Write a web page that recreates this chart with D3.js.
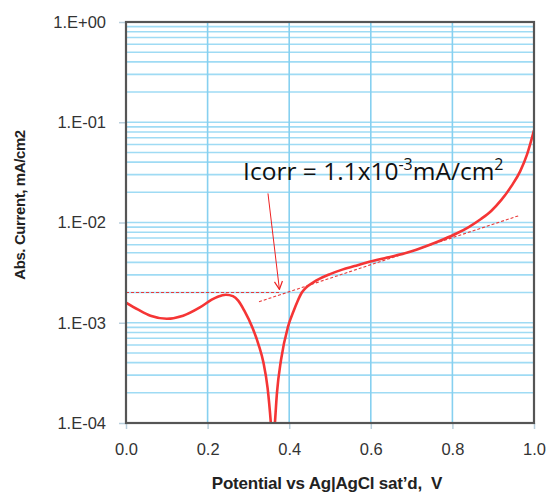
<!DOCTYPE html>
<html>
<head>
<meta charset="utf-8">
<script src="https://cdn.jsdelivr.net/npm/d3@7"></script>
<style>
  html, body { margin: 0; padding: 0; background: #fff; }
  svg { display: block; }
</style>
</head>
<body>
<svg id="chart"></svg>
<script>
// polarization curve
const potential = [0, 0.03, 0.06, 0.1, 0.14, 0.18, 0.21, 0.225, 0.245, 0.262, 0.275, 0.29, 0.31,
    0.325, 0.337, 0.347, 0.355, 0.36, 0.365, 0.37, 0.38, 0.397, 0.412, 0.42, 0.431, 0.44, 0.46,
    0.475, 0.5, 0.53, 0.56, 0.59, 0.64, 0.69, 0.74, 0.78, 0.81, 0.84, 0.87, 0.895, 0.92, 0.945,
    0.966, 0.983, 1.0];
const current = [1.585e-3, 1.349e-3, 1.175e-3, 1.096e-3, 1.175e-3, 1.413e-3, 1.698e-3, 1.82e-3,
    1.905e-3, 1.841e-3, 1.66e-3, 1.318e-3, 8.91e-4, 6.03e-4, 3.98e-4, 2.24e-4, 1.0e-4, 5.0e-5,
    1.0e-4, 2.0e-4, 4.27e-4, 9.12e-4, 1.35e-3, 1.622e-3, 2.0e-3, 2.213e-3, 2.541e-3, 2.754e-3,
    3.055e-3, 3.388e-3, 3.673e-3, 3.981e-3, 4.47e-3, 5.01e-3, 5.89e-3, 6.84e-3, 7.762e-3,
    9.016e-3, 1.084e-2, 1.303e-2, 1.679e-2, 2.317e-2, 3.236e-2, 4.786e-2, 8.318e-2];

// tangent construction
const plateauLine = [[0, 2.0e-3], [0.38, 2.0e-3]];
const tafelLine = [[0.326, 1.62e-3], [0.963, 1.17e-2]];
const arrowLine = [[0.348, 1.95e-2], [0.376, 2.15e-3]];

const xTicks = [0, 0.2, 0.4, 0.6, 0.8, 1.0];
const yTicks = [1e-4, 1e-3, 1e-2, 1e-1, 1];
const yTickLabels = ['1.E-04', '1.E-03', '1.E-02', '1.E-01', '1.E+00'];

const margin = { top: 22, right: 17, bottom: 73, left: 126 };
const W = 551, H = 496;
const width = W - margin.left - margin.right;
const height = H - margin.top - margin.bottom;

const svg = d3.select('#chart').attr('width', W).attr('height', H);
const defs = svg.append('defs');
defs.append('clipPath').attr('id', 'clip')
    .append('rect').attr('width', width).attr('height', height);
defs.append('marker')
    .attr('id', 'arrow')
    .attr('viewBox', '0 0 10 10')
    .attr('refX', 9).attr('refY', 5)
    .attr('markerWidth', 10).attr('markerHeight', 10)
    .attr('markerUnits', 'userSpaceOnUse')
    .attr('orient', 'auto')
    .append('path')
    .attr('d', 'M1,1 L9,5 L1,9')
    .attr('fill', 'none')
    .attr('stroke', '#ee2222')
    .attr('stroke-width', 1.2);

const g = svg.append('g').attr('transform', `translate(${margin.left},${margin.top})`);

const x = d3.scaleLinear().domain([0, 1]).range([0, width]);
const y = d3.scaleLog().domain([1e-4, 1]).range([height, 0]);

// grid
const minor = [];
for (let e = -4; e < 0; e++) {
    for (let m = 2; m <= 9; m++) minor.push(m * Math.pow(10, e));
}
g.append('g').selectAll('line.hgrid')
    .data(minor.concat(yTicks))
    .join('line')
    .attr('class', 'hgrid')
    .attr('x1', 0).attr('x2', width)
    .attr('y1', (d) => y(d)).attr('y2', (d) => y(d))
    .attr('stroke', '#9fdbf4')
    .attr('stroke-width', 1.6);

g.append('g').selectAll('line.vgrid')
    .data(xTicks)
    .join('line')
    .attr('class', 'vgrid')
    .attr('x1', (d) => x(d)).attr('x2', (d) => x(d))
    .attr('y1', 0).attr('y2', height)
    .attr('stroke', '#86d0f0')
    .attr('stroke-width', 1.6);

// axes
const yAxis = g.append('g')
    .call(d3.axisLeft(y).tickValues(yTicks).tickFormat((d, i) => yTickLabels[i]).tickSize(7).tickPadding(13));
const xAxis = g.append('g')
    .attr('transform', `translate(0,${height})`)
    .call(d3.axisBottom(x).tickValues(xTicks).tickFormat(d3.format('.1f')).tickSize(6).tickPadding(14));
[yAxis, xAxis].forEach((a) => {
    a.select('.domain').remove();
    a.selectAll('line').attr('stroke', '#b8cfdc').attr('stroke-width', 1.5);
    a.selectAll('text')
        .attr('fill', '#333')
        .style('font-family', 'Liberation Sans, Arial, sans-serif')
        .style('font-size', '16.5px');
});

// curve
const pts = potential.map((p, i) => [p, current[i]]);
const line = d3.line().x((d) => x(d[0])).y((d) => y(d[1])).curve(d3.curveMonotoneX);

const plot = g.append('g').attr('clip-path', 'url(#clip)');
plot.append('path')
    .datum(pts)
    .attr('d', line)
    .attr('fill', 'none')
    .attr('stroke', '#f53535')
    .attr('stroke-width', 2.6)
    .attr('stroke-linejoin', 'round');

const straight = d3.line().x((d) => x(d[0])).y((d) => y(d[1]));
[plateauLine, tafelLine].forEach((l) => {
    plot.append('path')
        .datum(l)
        .attr('d', straight)
        .attr('fill', 'none')
        .attr('stroke', '#e83a3a')
        .attr('stroke-width', 1.1)
        .attr('stroke-dasharray', '3,2');
});

// frame
g.append('rect')
    .attr('width', width).attr('height', height)
    .attr('fill', 'none')
    .attr('stroke', '#555')
    .attr('stroke-width', 2.2);

// annotation
g.append('path')
    .datum(arrowLine)
    .attr('d', straight)
    .attr('fill', 'none')
    .attr('stroke', '#ee2222')
    .attr('stroke-width', 1)
    .attr('marker-end', 'url(#arrow)');

const note = g.append('text')
    .attr('x', x(0.287)).attr('y', 180 - margin.top)
    .attr('fill', '#111')
    .style('font-family', 'Open Sans, sans-serif')
    .style('font-size', '24.5px');
note.append('tspan').text('Icorr = 1.1x10');
note.append('tspan').attr('dy', -10).style('font-size', '16px').text('-3');
note.append('tspan').attr('dy', 10).text('mA/cm');
note.append('tspan').attr('dy', -10).style('font-size', '16px').text('2');

// titles
svg.append('text')
    .attr('x', 327)
    .attr('y', 489)
    .attr('text-anchor', 'middle')
    .attr('fill', '#222')
    .style('font-family', 'Liberation Sans, Arial, sans-serif')
    .style('font-weight', 'bold')
    .style('font-size', '17px')
    .style('letter-spacing', '-0.2px')
    .style('white-space', 'pre')
    .text('Potential vs Ag|AgCl sat\u2019d,  V');

svg.append('text')
    .attr('transform', 'translate(25,205) rotate(-90)')
    .attr('text-anchor', 'middle')
    .attr('fill', '#222')
    .style('font-family', 'Liberation Sans, Arial, sans-serif')
    .style('font-weight', 'bold')
    .style('font-size', '15px')
    .style('letter-spacing', '-0.4px')
    .text('Abs. Current, mA/cm2');
</script>
</body>
</html>
